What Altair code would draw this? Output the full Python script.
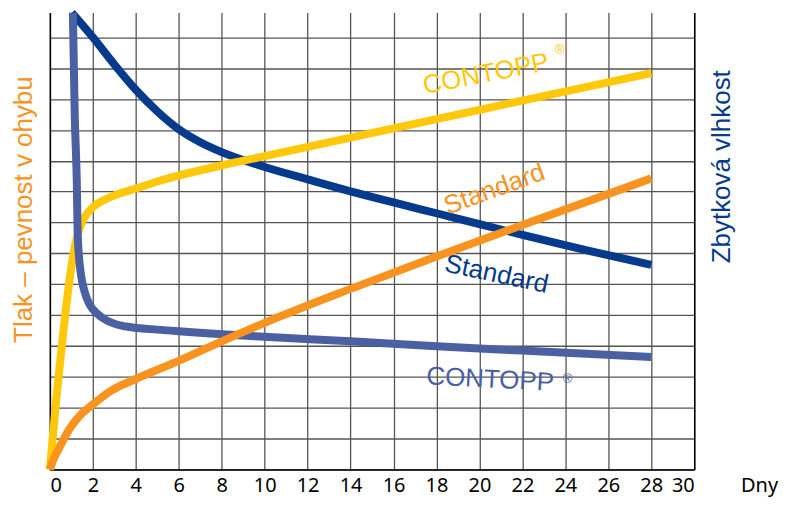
import altair as alt
import pandas as pd

# ---- data (x = days, y = grid units) ----
yellow_days = [0, 0.3, 0.6, 0.85, 1.1, 1.35, 1.6, 2, 2.5, 3, 4, 5, 6, 8, 10, 14, 18, 22, 28]
yellow_vals = [0, 2.3, 4.3, 5.8, 7.0, 7.75, 8.15, 8.5, 8.72, 8.88, 9.1, 9.33, 9.52, 9.85, 10.15, 10.75, 11.35, 11.95, 12.84]

orange_days = [0, 0.15, 0.4, 0.9, 1.4, 1.9, 2.9, 4, 6, 8, 10, 14, 18, 22, 28]
orange_vals = [0, 0.3, 0.65, 1.3, 1.75, 2.05, 2.57, 2.93, 3.52, 4.15, 4.75, 5.85, 6.9, 7.92, 9.43]

navy_days = [1.02, 2, 3, 4, 5, 6, 7, 8, 10, 12, 14, 16, 18, 20, 22, 25, 28]
navy_vals = [14.8, 14.0, 13.12, 12.3, 11.6, 11.02, 10.6, 10.28, 9.8, 9.4, 9.01, 8.65, 8.3, 7.95, 7.6, 7.1, 6.63]

slate_days = [1.07, 1.16, 1.25, 1.3, 1.45, 1.6, 1.85, 2.2, 2.64, 3.2, 3.85, 5, 6, 8, 10, 14, 18, 22, 28]
slate_vals = [14.8, 11.4, 9.4, 7.5, 6.3, 5.8, 5.34, 5.05, 4.83, 4.68, 4.6, 4.53, 4.48, 4.38, 4.3, 4.15, 3.99, 3.85, 3.64]

label_text = ["CONTOPP", "Standard", "Standard", "CONTOPP"]
label_days = [20.3, 20.7, 20.8, 20.5]
label_vals = [12.81, 9.08, 6.32, 2.91]
label_angle = [349, 340, 12, 3]
label_series = ["yellow", "orange", "navy", "slate"]

reg_days = [23.74, 24.1]
reg_vals = [13.58, 2.93]
reg_series = ["yellow", "slate"]

x_ticks = list(range(0, 31, 2))
y_grid = list(range(0, 15))

# ---- styles ----
colors = {"yellow": "#ffc80a", "orange": "#f7931e", "navy": "#063a8c", "slate": "#4b60a2"}
FONT = "Liberation Sans"
TICKFONT = "Noto Sans"

series = {
    "navy": (navy_days, navy_vals),
    "yellow": (yellow_days, yellow_vals),
    "slate": (slate_days, slate_vals),
    "orange": (orange_days, orange_vals),
}

rows = []
for name, (d, v) in series.items():
    for a, b in zip(d, v):
        rows.append({"day": a, "value": b, "series": name})
df = pd.DataFrame(rows)

labels = pd.DataFrame({"day": label_days, "value": label_vals, "text": label_text,
                       "angle": label_angle,
                       "color": [colors[s] for s in label_series]})
regs = pd.DataFrame({"day": reg_days, "value": reg_vals, "text": ["®", "®"],
                     "color": [colors[s] for s in reg_series]})

xdom = alt.Scale(domain=[0, 30], nice=False, zero=False)
ydom = alt.Scale(domain=[0, 14.8], nice=False, zero=False)

x_enc = alt.X("day:Q", scale=xdom, axis=alt.Axis(
    values=x_ticks, grid=True, ticks=False, domain=True, domainColor="black", domainWidth=1.5,
    labelFont=TICKFONT, labelFontSize=20, labelColor="black", labelPadding=22,
    labelBaseline="alphabetic",
    gridColor="#555555", gridWidth=1.3,
    title="Dny", titleFont=TICKFONT, titleFontSize=20, titleFontWeight="normal",
    titleColor="black", titleX=711, titleY=22, titleBaseline="alphabetic", titleAlign="center"))

left_axis = alt.Axis(values=y_grid, grid=True, gridColor="#555555", gridWidth=1.3,
                     labels=False, ticks=False, domain=True, domainColor="black", domainWidth=1.5,
                     orient="left", title="Tlak – pevnost v ohybu", titleFont=FONT,
                     titleFontSize=26, titleFontWeight="normal", titleColor=colors["orange"],
                     titleAngle=270, titleX=-18, titleY=197, titleAlign="center",
                     titleBaseline="alphabetic")
right_axis = alt.Axis(values=y_grid, grid=False, labels=False, ticks=False, domain=True,
                      domainColor="black", domainWidth=1.5, orient="right",
                      title="Zbytková vlhkost", titleFont=FONT, titleFontSize=26,
                      titleFontWeight="normal", titleColor=colors["navy"],
                      titleAngle=270, titleX=35, titleY=154, titleAlign="center",
                      titleBaseline="alphabetic")

layers = []
order = ["navy", "yellow", "slate", "orange"]
for i, name in enumerate(order):
    if i == 0:
        ax = left_axis
    elif i == 1:
        ax = right_axis
    else:
        ax = None
    y_kwargs = {"scale": ydom}
    if ax is None:
        y_kwargs["axis"] = None
    else:
        y_kwargs["axis"] = ax
    layer = alt.Chart(df).transform_filter(alt.datum.series == name).mark_line(
        color=colors[name], strokeWidth=8, interpolate="monotone", strokeCap="butt",
        strokeJoin="miter"
    ).encode(x=x_enc, y=alt.Y("value:Q", **y_kwargs))
    layers.append(layer)

text_layer = alt.Chart(labels).mark_text(font=FONT, fontSize=26, align="center",
                                         baseline="middle").encode(
    x=alt.X("day:Q", scale=xdom),
    y=alt.Y("value:Q", scale=ydom, axis=None),
    text="text:N",
    angle=alt.Angle("angle:Q", scale=None),
    color=alt.Color("color:N", scale=None),
)
reg_layer = alt.Chart(regs).mark_text(font=FONT, fontSize=13, align="center",
                                      baseline="middle").encode(
    x=alt.X("day:Q", scale=xdom),
    y=alt.Y("value:Q", scale=ydom, axis=None),
    text="text:N",
    color=alt.Color("color:N", scale=None),
)

chart = alt.layer(*layers, text_layer, reg_layer).resolve_scale(y="independent").properties(
    width=646, height=458,
    autosize=alt.AutoSizeParams(type="none"),
    padding={"left": 42, "top": 4, "right": 85, "bottom": 29},
).configure_view(stroke=None)

chart.save("out.html", embed_options={"renderer": "svg", "actions": False})
